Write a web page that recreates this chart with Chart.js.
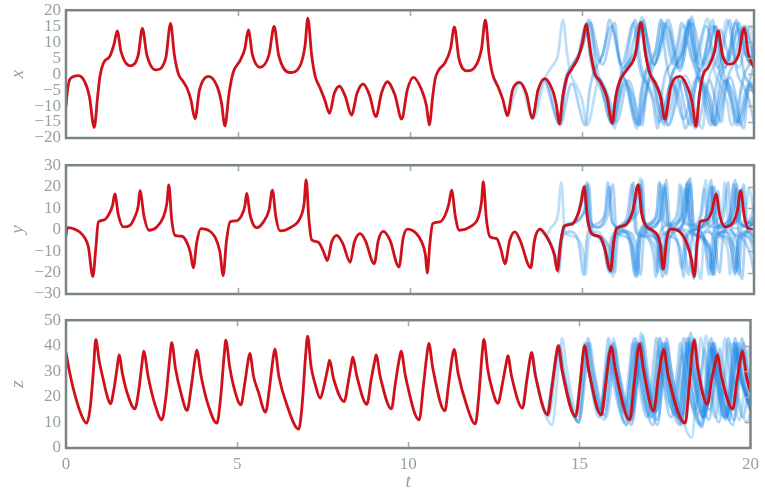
<!DOCTYPE html>
<html>
<head>
<meta charset="UTF-8" />
<title>Lorenz ensemble</title>
<script src="https://cdn.jsdelivr.net/npm/chart.js"></script>
<style>
  body { margin: 0; background: #fff; overflow: hidden; }
  #wrap { position: relative; width: 765px; height: 493px; overflow: hidden; }
  canvas { position: absolute; left: 0; }
</style>
</head>
<body>
<div id="wrap">
  <canvas id="cx" width="765" height="161" style="top:-5px"></canvas>
  <canvas id="cy" width="765" height="162" style="top:150px"></canvas>
  <canvas id="cz" width="765" height="188" style="top:305px"></canvas>
</div>
<script>
// time axis and value ranges [min, max, step]
const tRange = [0, 20, 5];
const xRange = [-20, 20, 5];
const yRange = [-30, 30, 10];
const zRange = [0, 50, 10];

// reference trajectory [t, value]
const redX = [[0,-10],[0.05,-4.5],[0.12,-1.5],[0.36,-0.5],[0.55,-2.5],[0.68,-7],[0.82,-16.7],[0.92,-7],[0.99,-0.5],[1.09,3.5],[1.28,5.7],[1.40,9.5],[1.49,13.5],[1.60,7],[1.86,2.6],[2.10,6],[2.22,14.3],[2.35,6],[2.61,1.3],[2.90,5],[3.04,15.9],[3.15,6],[3.27,0],[3.37,-1.8],[3.51,-4.2],[3.63,-8],[3.75,-14],[3.88,-5],[4.14,-0.7],[4.40,-4],[4.52,-9],[4.62,-16.2],[4.74,-6],[4.86,0.5],[5.06,4.2],[5.20,8],[5.30,13.8],[5.42,6],[5.64,2.1],[5.90,6],[6.05,14.9],[6.18,6],[6.51,0.5],[6.80,2.5],[6.95,9],[7.03,17.5],[7.14,6],[7.24,-0.5],[7.38,-4.2],[7.52,-8],[7.66,-12.3],[7.80,-6],[7.95,-3.8],[8.12,-7],[8.30,-12.8],[8.46,-6],[8.64,-3.1],[8.82,-6.5],[9.01,-13.3],[9.17,-6],[9.34,-2.4],[9.56,-6.5],[9.76,-14.1],[9.92,-5],[10.10,-1.0],[10.34,-5],[10.48,-10],[10.56,-15.9],[10.66,-7],[10.73,-1.6],[10.82,1.0],[11.02,3.6],[11.18,8],[11.29,14.8],[11.42,5],[11.65,1.0],[11.94,3.1],[12.08,8],[12.19,17.0],[12.30,6],[12.40,0],[12.57,-4.2],[12.70,-8],[12.83,-13],[12.98,-5],[13.18,-2.6],[13.38,-6],[13.56,-13.8],[13.72,-5],[13.92,-1.4],[14.14,-5],[14.26,-10],[14.34,-15.6],[14.44,-7],[14.56,-1.0],[14.70,1.6],[14.89,5.2],[15.02,10],[15.12,15.6],[15.26,6],[15.38,0],[15.52,-2.1],[15.72,-7],[15.88,-15.3],[15.98,-7],[16.10,-2.1],[16.30,1.3],[16.55,6],[16.71,16.1],[16.85,6],[16.98,0],[17.12,-2.6],[17.28,-7],[17.41,-14.1],[17.58,-4],[17.85,-0.7],[18.10,-5],[18.22,-10],[18.31,-16.3],[18.42,-6],[18.53,0],[18.67,2.1],[18.85,7],[18.96,13.5],[19.08,6],[19.30,3.1],[19.55,6],[19.71,14.3],[19.84,6],[20.0,2.0]];

const redY = [[0,-2.7],[0.04,0.9],[0.20,0.5],[0.40,-1.1],[0.55,-4],[0.65,-8],[0.78,-21.9],[0.87,-8],[0.94,3.6],[1.09,4.4],[1.23,6.7],[1.35,11],[1.42,16.6],[1.52,7],[1.67,1.25],[1.86,2.0],[2.00,5.9],[2.10,11],[2.15,18.1],[2.27,6],[2.41,-0.3],[2.64,1.25],[2.83,5.9],[2.93,12],[2.99,20.8],[3.07,5],[3.17,-2.7],[3.36,-3.1],[3.51,-5.8],[3.62,-11],[3.70,-17.8],[3.80,-6],[3.92,0.5],[4.14,-0.3],[4.33,-3.4],[4.47,-10],[4.57,-21.4],[4.66,-6],[4.77,3.6],[4.96,4.1],[5.11,6.7],[5.20,11],[5.25,16.9],[5.35,7],[5.49,1.25],[5.55,0.9],[5.74,3.6],[5.90,9],[6.00,18.4],[6.10,6],[6.22,-0.6],[6.56,1.25],[6.80,5.2],[6.92,12],[6.98,23.1],[7.06,5],[7.14,-4.7],[7.33,-5.8],[7.48,-10],[7.60,-14.4],[7.72,-6],[7.87,-2.7],[8.05,-6.6],[8.26,-15.2],[8.38,-6],[8.55,-1.9],[8.70,-5],[8.96,-15.9],[9.08,-5],[9.22,-0.8],[9.42,-5],[9.68,-17.5],[9.80,-4],[9.92,0.2],[10.19,-1.9],[10.34,-5.8],[10.45,-12],[10.50,-20.3],[10.58,-6],[10.66,2.8],[10.87,3.6],[11.02,6.7],[11.13,12],[11.21,18.4],[11.32,6],[11.43,-0.3],[11.74,1.25],[11.99,5.9],[12.08,13],[12.13,22.3],[12.22,5],[12.33,-3.4],[12.52,-4.2],[12.64,-9],[12.76,-15.9],[12.90,-5],[13.05,-1.1],[13.20,-5],[13.51,-17.8],[13.62,-5],[13.78,0.2],[13.95,-2.7],[14.08,-6.6],[14.20,-12],[14.28,-19.1],[14.38,-6],[14.48,1.6],[14.70,2.5],[14.89,7.5],[14.98,13],[15.06,20],[15.16,5],[15.28,-1.9],[15.52,-3.4],[15.65,-8.1],[15.83,-19.1],[15.92,-6],[16.00,0.5],[16.25,2.0],[16.47,8.3],[16.63,20.8],[16.74,7],[16.88,1.25],[17.05,-0.3],[17.27,-6.6],[17.36,-18.3],[17.46,-5],[17.56,0.2],[17.85,-1.1],[18.05,-6.6],[18.18,-14],[18.26,-21.9],[18.35,-6],[18.43,3.6],[18.62,4.4],[18.77,8.3],[18.90,16.6],[19.00,7],[19.16,1.25],[19.40,3.6],[19.52,9],[19.61,18.1],[19.72,6],[19.83,0.5],[20.0,0]];

const redZ = [[0,37.5],[0.10,30],[0.21,23.4],[0.41,14.3],[0.60,9.7],[0.70,15],[0.80,30],[0.87,42.5],[0.97,34],[1.08,27.3],[1.20,20.5],[1.30,17.3],[1.40,23],[1.50,32],[1.55,36.4],[1.65,29],[1.80,21],[2.01,15.3],[2.12,22],[2.22,33],[2.27,37.9],[2.40,28],[2.60,17],[2.80,11],[2.92,20],[3.03,35],[3.09,41.2],[3.20,31],[3.35,22],[3.54,14.7],[3.65,23],[3.76,34],[3.82,38.3],[3.95,28],[4.15,17],[4.41,9.7],[4.52,20],[4.62,36],[4.67,42.2],[4.78,32],[4.92,23],[5.11,16.9],[5.22,25],[5.32,34],[5.37,37],[5.48,28],[5.62,22],[5.83,14],[5.95,24],[6.05,35],[6.10,38.7],[6.22,28],[6.45,17],[6.80,7.4],[6.90,17],[7.00,36],[7.06,43.8],[7.16,32],[7.28,25],[7.43,19.5],[7.55,25],[7.66,32],[7.70,34.4],[7.82,27],[8.13,18.2],[8.25,26],[8.34,33],[8.38,35.5],[8.50,28],[8.79,17.1],[8.92,27],[9.02,34],[9.06,36.4],[9.18,28],[9.51,15.3],[9.62,25],[9.74,35],[9.79,37.9],[9.92,28],[10.32,11],[10.44,24],[10.55,37],[10.60,40.9],[10.72,31],[11.07,14.5],[11.18,25],[11.29,36],[11.34,38.6],[11.46,29],[11.70,17],[11.96,9.4],[12.06,20],[12.16,37],[12.21,42.5],[12.32,31],[12.45,23],[12.62,17.5],[12.75,25],[12.86,33],[12.91,36.1],[13.02,28],[13.34,15.6],[13.46,26],[13.56,35],[13.60,37.3],[13.72,28],[14.07,13],[14.20,24],[14.33,37],[14.38,40],[14.50,30],[14.89,12.3],[15.02,25],[15.11,37],[15.15,40],[15.28,30],[15.64,13],[15.77,25],[15.88,37],[15.93,39.6],[16.06,30],[16.47,11],[16.60,25],[16.70,37],[16.75,40.6],[16.88,30],[17.17,14.5],[17.30,27],[17.41,36],[17.46,38.6],[17.60,28],[18.09,9.7],[18.20,23],[18.30,38],[18.35,42.2],[18.46,31],[18.74,17.1],[18.87,27],[18.98,34],[19.03,36.4],[19.15,28],[19.48,15.3],[19.60,26],[19.71,35],[19.76,37.9],[19.88,28],[20.0,22]];

// ensemble members, one list per member
const blueX = [
  [[12.85,-13.2],[13.20,-2.8],[13.58,-14],[13.92,-1.4],[14.10,2],[14.30,6],[14.45,17],[14.56,7],[14.67,0],[14.80,-3],[15.00,-8],[15.15,-16],[15.50,-2],[15.85,-15],[16.20,-1],[16.60,-17],[16.71,-7],[16.82,0],[16.96,3],[17.15,8],[17.30,17],[17.65,3],[17.95,15],[18.30,2],[18.65,17.5],[18.76,7],[18.87,0],[19.00,-3],[19.20,-8],[19.35,-16],[19.75,-1],[20.0,-6]],
  [[13.56,-13.8],[13.92,-1.6],[14.36,-15.8],[14.70,-3],[15.10,-16],[15.21,-6],[15.32,0],[15.46,3],[15.65,8],[15.80,17],[16.15,3],[16.50,16],[16.61,6],[16.72,0],[16.86,-3],[17.05,-8],[17.20,-17],[17.31,-7],[17.42,0],[17.56,3],[17.75,8],[17.90,16],[18.25,4],[18.60,15],[18.95,2],[19.30,17],[19.41,7],[19.52,0],[19.66,-3],[19.85,-8],[20.0,-15]],
  [[14.34,-15.6],[14.56,-1],[14.70,1.6],[14.89,5.2],[15.18,16],[15.50,4],[15.85,15],[16.20,2],[16.55,17],[16.66,7],[16.77,0],[16.91,-3],[17.10,-8],[17.25,-15],[17.60,-3],[17.95,-14],[18.35,-1],[18.75,-16],[18.86,-6],[18.97,0],[19.11,3],[19.30,8],[19.45,16],[19.75,6],[20.0,5]],
  [[15.12,15.8],[15.26,6],[15.38,0],[15.52,-2.1],[15.70,-7],[15.85,-15.5],[16.25,-2],[16.65,-16],[16.76,-6],[16.87,0],[17.01,3],[17.20,8],[17.35,16],[17.70,3],[18.05,14],[18.45,1],[18.80,17],[18.91,7],[19.02,0],[19.16,-3],[19.35,-8],[19.50,-15],[19.85,-3],[20.0,-6]],
  [[15.88,-15.3],[16.10,-2],[16.30,1.3],[16.55,6],[16.75,16.3],[17.10,3],[17.45,15],[17.80,2],[18.15,17],[18.26,7],[18.37,0],[18.51,-3],[18.70,-8],[18.85,-16],[19.20,-2],[19.55,-15],[19.90,-3],[20.0,-5]],
  [[14.34,-15.6],[14.56,-1],[14.70,1.6],[14.89,5.2],[15.12,15.4],[15.23,6],[15.34,0],[15.48,-3],[15.66,-8],[15.80,-14],[16.20,-1],[16.60,-16],[16.71,-6],[16.82,0],[16.96,3],[17.15,8],[17.30,17],[17.41,7],[17.52,0],[17.66,-3],[17.85,-8],[18.00,-17],[18.40,-1],[18.80,-15],[19.15,-2],[19.50,-16],[19.61,-6],[19.72,0],[19.86,3],[20.0,10]],
  [[13.92,-1.3],[14.38,-15.8],[14.49,-6],[14.60,0],[14.74,3],[14.98,8],[15.20,17],[15.60,3],[15.95,16],[16.06,6],[16.17,0],[16.31,-3],[16.50,-8],[16.65,-16],[17.00,-2],[17.35,-14],[17.75,-1],[18.15,-16],[18.26,-6],[18.37,0],[18.51,3],[18.70,8],[18.85,15],[19.20,4],[19.55,14],[19.90,3],[20.0,5]],
  [[16.30,1.3],[16.71,16.3],[16.85,6],[16.98,0],[17.12,-2.6],[17.28,-7],[17.40,-15],[17.51,-6],[17.62,0],[17.76,3],[17.95,8],[18.10,16],[18.45,3],[18.80,15],[19.15,2],[19.50,17],[19.61,7],[19.72,0],[19.86,-3],[20.0,-6]],
  [[15.52,-2.1],[15.88,-15.5],[15.98,-7],[16.10,-2],[16.30,1.5],[16.55,6],[16.75,16],[17.10,3],[17.45,16],[17.85,1],[18.20,18],[18.31,7],[18.42,0],[18.56,-3],[18.75,-8],[18.90,-16],[19.30,-1],[19.70,-17],[19.81,-7],[19.92,0],[20.0,2]],
  [[14.89,5.2],[15.15,15.8],[15.28,6],[15.40,0],[15.55,-3],[15.75,-8],[15.95,-17],[16.06,-7],[16.17,0],[16.31,3],[16.55,8],[16.75,18],[16.86,7],[16.97,0],[17.11,-3],[17.30,-8],[17.50,-16],[18.00,-0.5],[18.50,-17],[18.61,-7],[18.72,0],[18.86,3],[19.05,8],[19.20,17],[19.55,2],[19.90,15],[20.0,10]],
  [[16.71,16.1],[16.85,6],[16.98,0],[17.12,-2.6],[17.28,-7],[17.43,-14.5],[17.85,-0.8],[18.33,-16.5],[18.70,-2],[19.05,-15],[19.16,-6],[19.27,0],[19.41,3],[19.60,8],[19.75,15],[20.0,6]],
  [[15.52,-2.1],[15.72,-7],[15.90,-15.5],[16.25,-3],[16.60,-15],[17.00,-1],[17.40,-16],[17.51,-6],[17.62,0],[17.76,3],[17.95,8],[18.10,17],[18.21,7],[18.32,0],[18.46,-3],[18.65,-8],[18.85,-16],[18.96,-6],[19.07,0],[19.21,3],[19.40,8],[19.55,16],[19.85,4],[20.0,6]],
  [[14.34,-15.6],[14.45,-6],[14.56,0],[14.72,3],[15.00,8],[15.25,16],[15.36,6],[15.47,0],[15.61,-3],[15.80,-8],[16.00,-15],[16.35,-2],[16.75,-16],[16.86,-6],[16.97,0],[17.11,3],[17.30,8],[17.50,17],[17.85,2],[18.20,16],[18.55,3],[18.90,15],[19.01,6],[19.12,0],[19.26,-3],[19.45,-8],[19.60,-16],[19.90,-3],[20.0,-4]],
  [[15.12,15.6],[15.26,6],[15.38,0],[15.54,-2.5],[15.74,-7],[15.92,-15.8],[16.03,-7],[16.14,0],[16.30,3],[16.60,8],[16.80,17],[16.91,7],[17.02,0],[17.16,-3],[17.35,-8],[17.50,-16],[17.90,-2],[18.30,-17],[18.41,-7],[18.52,0],[18.66,3],[18.85,8],[19.00,14],[19.35,4],[19.70,15],[20.0,4]]
];

const blueY = [
  [[13.78,0.2],[13.95,-2.7],[14.10,1],[14.30,7],[14.40,22],[14.50,-1],[14.70,-3],[14.95,-6],[15.05,-12],[15.10,-21],[15.20,-4],[15.45,-1],[15.65,-6],[15.80,-19],[15.90,-4],[16.15,0],[16.40,-5],[16.55,-22],[16.65,-3],[16.80,2],[17.05,4],[17.18,9],[17.25,22],[17.36,4],[17.60,1],[17.82,7],[17.90,20],[18.00,4],[18.25,1],[18.48,7],[18.60,23],[18.70,-1],[18.95,-3],[19.15,-6],[19.25,-11],[19.30,-21],[19.40,-4],[19.70,-1],[19.90,-6],[20.0,-12]],
  [[13.51,-17.8],[13.62,-5],[13.78,0.3],[13.95,-2.7],[14.08,-6.6],[14.20,-12],[14.30,-19.5],[14.40,-5],[14.65,-1],[14.90,-6],[15.05,-21],[15.15,-3],[15.35,2],[15.55,4],[15.68,9],[15.75,22],[15.86,4],[16.10,1],[16.32,7],[16.45,21],[16.55,-1],[16.75,-3],[16.98,-6],[17.08,-12],[17.15,-22],[17.25,-3],[17.45,2],[17.65,4],[17.78,9],[17.85,21],[17.95,4],[18.20,2],[18.45,7],[18.55,19],[18.65,3],[18.90,1],[19.12,7],[19.25,22],[19.35,-1],[19.55,-3],[19.75,-6],[19.90,-12],[20.0,-20]],
  [[14.28,-19.1],[14.38,-6],[14.48,1.6],[14.70,2.5],[14.89,7.5],[15.00,13],[15.12,21],[15.22,4],[15.45,1],[15.68,7],[15.80,20],[15.90,3],[16.15,0.5],[16.38,7],[16.50,22],[16.60,-1],[16.85,-3],[17.05,-6],[17.15,-11],[17.20,-20],[17.30,-4],[17.55,-1],[17.78,-6],[17.90,-18],[18.00,-4],[18.30,0],[18.55,-5],[18.70,-21],[18.80,-3],[19.00,2],[19.22,4],[19.33,9],[19.40,21],[19.50,5],[19.70,2],[19.90,4],[20.0,6]],
  [[15.06,20.5],[15.16,5],[15.28,-1.9],[15.52,-3.4],[15.65,-8],[15.80,-20],[15.90,-4],[16.20,-0.5],[16.45,-5],[16.60,-22],[16.70,-3],[16.90,2],[17.10,4],[17.23,9],[17.30,21],[17.40,4],[17.65,1],[17.88,7],[18.00,19],[18.10,3],[18.40,0],[18.62,7],[18.75,23],[18.85,-1],[19.05,-3],[19.25,-6],[19.38,-11],[19.45,-20],[19.55,-4],[19.80,-1],[20.0,-6]],
  [[15.83,-19.1],[15.92,-6],[16.00,0.5],[16.25,2],[16.47,8.3],[16.68,21],[16.80,4],[17.05,1],[17.28,7],[17.40,20],[17.50,3],[17.75,0.5],[17.98,7],[18.10,23],[18.20,-1],[18.40,-3],[18.62,-6],[18.73,-11],[18.80,-21],[18.90,-4],[19.15,-1],[19.38,-6],[19.50,-19],[19.60,-4],[19.85,-1],[20.0,-4]],
  [[14.28,-19.1],[14.38,-6],[14.48,1.6],[14.70,2.5],[14.89,7.5],[15.07,19.5],[15.17,4],[15.30,-2],[15.50,-4],[15.65,-9],[15.75,-18],[15.85,-4],[16.15,0],[16.38,-5],[16.55,-21],[16.65,-3],[16.85,2],[17.08,4],[17.18,9],[17.25,22],[17.35,-1],[17.55,-3],[17.78,-6],[17.88,-11],[17.95,-22],[18.05,-4],[18.35,0],[18.58,-5],[18.75,-19],[18.85,-4],[19.10,-1],[19.30,-5],[19.45,-21],[19.55,-3],[19.75,2],[19.92,6],[20.0,11]],
  [[13.78,0.3],[13.95,-2.7],[14.10,-6.6],[14.22,-12],[14.32,-20],[14.42,-4],[14.55,2],[14.75,3],[14.98,6],[15.08,10],[15.15,22],[15.25,4],[15.50,1],[15.75,7],[15.90,21],[16.00,-1],[16.22,-3],[16.42,-6],[16.53,-11],[16.60,-21],[16.70,-4],[16.95,-1],[17.15,-5],[17.30,-18],[17.40,-4],[17.70,0],[17.95,-5],[18.10,-21],[18.20,-3],[18.40,2],[18.60,4],[18.72,9],[18.80,20],[18.90,4],[19.15,1],[19.38,7],[19.50,19],[19.60,3],[19.85,1],[20.0,4]],
  [[16.25,2],[16.47,8.3],[16.65,21],[16.76,7],[16.90,1],[17.05,-1],[17.22,-6],[17.35,-19],[17.45,-4],[17.58,2],[17.78,4],[17.95,9],[18.05,21],[18.15,4],[18.40,1],[18.62,7],[18.75,20],[18.85,3],[19.10,0.5],[19.32,7],[19.45,23],[19.55,-1],[19.78,-3],[19.95,-6],[20.0,-8]],
  [[15.52,-3.4],[15.65,-8],[15.83,-19.5],[15.92,-6],[16.00,0.5],[16.25,2],[16.47,8.3],[16.70,20.5],[16.80,4],[17.05,1],[17.28,7],[17.40,21],[17.50,3],[17.80,0],[18.02,7],[18.15,24],[18.25,-1],[18.45,-3],[18.65,-6],[18.78,-11],[18.85,-21],[18.95,-4],[19.25,0],[19.48,-5],[19.65,-23],[19.75,-3],[19.90,2],[20.0,3]],
  [[14.89,7.5],[15.10,20.5],[15.20,4],[15.35,-2],[15.55,-4],[15.78,-9],[15.90,-22],[16.00,-4],[16.12,2],[16.32,4],[16.58,10],[16.70,24],[16.80,-1],[17.00,-3],[17.25,-6],[17.38,-11],[17.45,-20],[17.55,-4],[17.95,0],[18.25,-5],[18.45,-23],[18.55,-3],[18.75,2],[18.95,5],[19.08,9],[19.15,22],[19.25,4],[19.50,0.5],[19.75,7],[19.85,19],[20.0,8]],
  [[16.63,20.8],[16.74,7],[16.88,1.25],[17.05,-0.3],[17.27,-6.6],[17.38,-18.5],[17.48,-5],[17.58,0.2],[17.87,-1.1],[18.07,-6.6],[18.20,-14],[18.28,-22],[18.38,-5],[18.65,-1],[18.85,-5],[19.00,-20],[19.10,-3],[19.30,2],[19.50,4],[19.62,9],[19.70,21],[19.80,4],[20.0,2]],
  [[15.65,-8.1],[15.85,-19.5],[15.95,-4],[16.20,-1],[16.42,-6],[16.55,-19],[16.65,-3],[16.95,0],[17.20,-6],[17.35,-22],[17.45,-3],[17.65,2],[17.85,4],[17.98,9],[18.05,22],[18.15,-1],[18.35,-3],[18.55,-6],[18.72,-11],[18.80,-21],[18.90,-3],[19.10,2],[19.30,4],[19.42,9],[19.50,21],[19.60,4],[19.85,1],[20.0,6]],
  [[14.28,-19.1],[14.38,-5],[14.50,2],[14.75,3],[15.02,7],[15.12,11],[15.20,21],[15.30,-1],[15.50,-3],[15.72,-6],[15.88,-12],[15.95,-20],[16.05,-3],[16.30,-1],[16.55,-6],[16.70,-21],[16.80,-3],[17.00,2],[17.25,4],[17.38,9],[17.45,23],[17.55,3],[17.80,0],[18.02,7],[18.15,21],[18.25,3],[18.50,1],[18.72,7],[18.85,20],[18.95,-1],[19.15,-3],[19.35,-6],[19.48,-11],[19.55,-21],[19.65,-4],[19.90,-1],[20.0,-4]],
  [[15.06,20],[15.16,5],[15.28,-1.9],[15.54,-3.6],[15.68,-8.5],[15.87,-20],[15.96,-5],[16.06,1],[16.30,3],[16.58,7],[16.68,11],[16.75,23],[16.85,-1],[17.05,-3],[17.25,-6],[17.38,-11],[17.45,-21],[17.55,-4],[17.85,0],[18.10,-6],[18.25,-23],[18.35,-3],[18.55,2],[18.75,4],[18.88,9],[18.95,18],[19.05,3],[19.30,2],[19.55,7],[19.65,19],[19.75,3],[20.0,3]]
];

const blueZ = [
  [[13.60,37.3],[13.72,28],[14.20,9],[14.40,33],[14.50,43],[14.62,32],[14.93,14],[15.12,33],[15.20,41],[15.32,31],[15.63,14],[15.83,32],[15.90,39],[16.02,29],[16.38,9],[16.58,35],[16.65,43],[16.77,32],[17.08,13],[17.28,35],[17.35,43],[17.47,32],[17.73,15],[17.93,32],[18.00,39],[18.12,29],[18.43,12],[18.63,36],[18.70,44],[18.82,33],[19.13,13],[19.33,33],[19.40,41],[19.52,30],[19.90,10],[20.0,14]],
  [[13.34,15.6],[13.56,35],[13.61,37.5],[13.73,28],[14.10,12.5],[14.33,34],[14.41,40],[14.53,30],[14.88,13],[15.08,33],[15.15,41],[15.27,31],[15.58,12],[15.78,35],[15.85,43],[15.97,32],[16.28,14],[16.48,33],[16.55,41],[16.67,31],[16.98,12],[17.18,35],[17.25,43],[17.37,32],[17.68,12],[17.88,33],[17.95,41],[18.07,31],[18.38,15],[18.58,32],[18.65,39],[18.77,29],[19.08,10],[19.28,35],[19.35,43],[19.47,32],[19.78,12],[20.0,32]],
  [[14.07,13],[14.33,37],[14.38,40],[14.50,30],[14.95,11],[15.16,33],[15.23,41],[15.35,31],[15.63,15],[15.83,32],[15.90,39],[16.02,29],[16.33,10],[16.53,35],[16.60,43],[16.72,32],[17.03,13],[17.23,31],[17.30,39],[17.42,29],[17.73,15],[17.93,30],[18.00,37],[18.12,27],[18.53,9],[18.73,33],[18.80,41],[18.92,31],[19.23,12],[19.43,33],[19.50,41],[19.62,31],[20.0,16]],
  [[15.15,40],[15.28,30],[15.64,13],[15.84,32],[15.90,40],[16.02,30],[16.43,11],[16.63,33],[16.70,41],[16.82,31],[17.13,12],[17.33,33],[17.40,41],[17.52,31],[17.83,14],[18.03,30],[18.10,37],[18.22,27],[18.58,9],[18.78,35],[18.85,43],[18.97,32],[19.28,12],[19.48,31],[19.55,39],[19.67,29],[20.0,15]],
  [[15.93,39.6],[16.06,30],[16.50,11],[16.73,33],[16.80,41],[16.92,31],[17.23,14],[17.43,31],[17.50,39],[17.62,29],[17.93,11],[18.13,35],[18.20,43],[18.32,32],[18.63,12],[18.83,33],[18.90,41],[19.02,31],[19.33,13],[19.53,31],[19.60,39],[19.72,29],[20.0,17]],
  [[15.15,40],[15.27,30],[15.58,14],[15.78,30],[15.85,37],[15.97,27],[16.38,9],[16.58,33],[16.65,41],[16.77,31],[17.08,12],[17.28,35],[17.35,43],[17.47,32],[17.78,13],[17.98,35],[18.05,43],[18.17,32],[18.58,8],[18.78,31],[18.85,39],[18.97,29],[19.28,12],[19.48,33],[19.55,41],[19.67,31],[20.0,14]],
  [[14.07,13],[14.36,37],[14.43,40],[14.55,30],[14.98,10],[15.18,35],[15.25,43],[15.37,32],[15.73,13],[15.93,33],[16.00,41],[16.12,31],[16.43,13],[16.63,33],[16.70,41],[16.82,31],[17.13,14],[17.33,30],[17.40,37],[17.52,27],[17.93,9],[18.13,33],[18.20,41],[18.32,31],[18.63,12],[18.83,31],[18.90,39],[19.02,29],[19.33,15],[19.53,30],[19.60,37],[19.72,27],[20.0,17]],
  [[16.47,11],[16.70,37],[16.76,41],[16.88,30],[17.17,14.5],[17.38,31],[17.45,39],[17.57,29],[17.88,12],[18.08,33],[18.15,41],[18.27,31],[18.58,14],[18.78,31],[18.85,39],[18.97,29],[19.28,11],[19.48,35],[19.55,43],[19.67,32],[20.0,15]],
  [[15.64,13],[15.86,37],[15.93,40],[16.05,30],[16.50,11],[16.73,33],[16.80,41],[16.92,31],[17.23,14],[17.43,33],[17.50,41],[17.62,31],[17.98,9],[18.18,37],[18.25,45],[18.37,34],[18.68,12],[18.88,33],[18.95,41],[19.07,31],[19.48,9],[19.68,35],[19.75,43],[19.87,32],[20.0,25]],
  [[14.89,12.3],[15.13,36],[15.20,40],[15.32,30],[15.73,11],[15.93,35],[16.00,43],[16.12,32],[16.53,10],[16.73,37],[16.80,45],[16.92,34],[17.28,11],[17.48,33],[17.55,41],[17.67,31],[18.05,10],[18.28,4],[18.48,35],[18.55,43],[18.67,32],[18.98,12],[19.18,35],[19.25,43],[19.37,32],[19.68,11],[19.88,31],[19.95,39],[20.0,36]],
  [[16.75,40.6],[16.88,30],[17.17,14.5],[17.30,27],[17.48,38.8],[17.60,28],[18.09,9.5],[18.30,38],[18.37,42.5],[18.49,31],[18.80,15],[19.02,33],[19.10,39],[19.22,29],[19.52,11],[19.73,34],[19.80,41],[19.92,31],[20.0,25]],
  [[15.93,40],[16.06,30],[16.33,15],[16.55,33],[16.65,38],[16.77,28],[17.15,9],[17.38,35],[17.45,41],[17.57,31],[17.88,12],[18.08,35],[18.15,43],[18.27,32],[18.60,12],[18.83,33],[18.90,41],[19.02,31],[19.33,12],[19.53,33],[19.60,41],[19.72,31],[20.0,15]],
  [[14.38,40],[14.50,30],[14.98,10],[15.22,33],[15.30,41],[15.42,31],[15.78,12],[15.98,31],[16.05,39],[16.17,29],[16.53,13],[16.73,34],[16.80,41],[16.92,31],[17.28,9],[17.48,35],[17.55,43],[17.67,32],[17.98,10],[18.18,34],[18.25,41],[18.37,31],[18.68,14],[18.88,31],[18.95,39],[19.07,29],[19.38,11],[19.58,33],[19.65,41],[19.77,31],[20.0,16]],
  [[15.15,40],[15.28,30],[15.64,13],[15.84,33],[15.97,40.5],[16.09,30],[16.52,9],[16.78,36],[16.85,44],[16.97,33],[17.28,11],[17.48,33],[17.55,41],[17.67,31],[18.02,13],[18.28,36],[18.35,43],[18.47,32],[18.78,11],[18.98,30],[19.05,37],[19.17,27],[19.48,15],[19.68,31],[19.75,39],[19.87,29],[20.0,22]]
];

const redColor = '#cf111b';
const blueColor = 'rgba(40,140,230,0.38)';
const paleBlue = 'rgba(110,185,235,0.45)';
const spineColor = '#798585';
const textColor = '#97a1a1';
const serif = "'Liberation Serif', 'DejaVu Serif', serif";

// spines + inward tick marks
const frame = {
  id: 'frame',
  afterDatasetsDraw(chart) {
    const { ctx, chartArea: a, scales } = chart;
    ctx.save();
    ctx.strokeStyle = '#a3abab';
    ctx.lineWidth = 1.5;
    ctx.beginPath();
    scales.x.ticks.forEach(tk => {
      if (tk.value <= scales.x.min || tk.value >= scales.x.max) return;
      const px = Math.round(scales.x.getPixelForValue(tk.value)) + 0.5;
      ctx.moveTo(px, a.top); ctx.lineTo(px, a.top + 6);
      ctx.moveTo(px, a.bottom); ctx.lineTo(px, a.bottom - 6);
    });
    scales.y.ticks.forEach(tk => {
      if (tk.value <= scales.y.min || tk.value >= scales.y.max) return;
      const py = Math.round(scales.y.getPixelForValue(tk.value)) + 0.5;
      ctx.moveTo(a.right, py); ctx.lineTo(a.right - 6, py);
    });
    ctx.stroke();
    ctx.strokeStyle = spineColor;
    ctx.lineWidth = 2.5;
    ctx.strokeRect(a.left, a.top, a.right - a.left, a.bottom - a.top);
    ctx.restore();
  }
};

function toPts(arr) {
  return arr.map(p => ({ x: p[0], y: p[1] }));
}

function makePanel(id, red, blues, range, label, pad, showT) {
  const datasets = [{ data: toPts(red), borderColor: redColor, borderWidth: 2.8 }];
  blues.forEach((b, i) => {
    datasets.push({
      data: toPts(b),
      borderColor: (i === 0 || i === 9) ? paleBlue : blueColor,
      borderWidth: 2.8
    });
  });

  return new Chart(document.getElementById(id), {
    type: 'line',
    data: { datasets },
    options: {
      responsive: false,
      animation: false,
      events: [],
      layout: { padding: pad },
      elements: {
        point: { radius: 0 },
        line: { cubicInterpolationMode: 'monotone', fill: false }
      },
      plugins: { legend: { display: false }, tooltip: { enabled: false } },
      scales: {
        x: {
          type: 'linear',
          min: tRange[0], max: tRange[1],
          display: showT,
          ticks: { stepSize: tRange[2], autoSkip: false, color: textColor, padding: 6, font: { family: serif, size: 17 } },
          grid: { display: false, drawTicks: false },
          border: { display: false },
          title: { display: showT, text: 't', color: textColor, padding: { top: 2, bottom: 0 },
                   font: { family: serif, size: 19, style: 'italic' } },
          afterFit: s => { s.height = showT ? 45 : 0; }
        },
        y: {
          type: 'linear',
          min: range[0], max: range[1],
          ticks: {
            stepSize: range[2], autoSkip: false, color: textColor, padding: 5,
            font: { family: serif, size: 17 },
            callback: v => String(v).replace('-', '\u2212')
          },
          grid: { display: false, drawTicks: false },
          border: { display: false },
          title: { display: true, text: label, color: textColor, padding: { top: 7, bottom: 0 },
                   font: { family: serif, size: 19, style: 'italic' } },
          afterFit: s => { s.width = 66; }
        }
      }
    },
    plugins: [frame]
  });
}

makePanel('cx', redX, blueX, xRange, 'x', { top: 15, right: 11, bottom: 18, left: 0 }, false);
makePanel('cy', redY, blueY, yRange, 'y', { top: 15, right: 11, bottom: 18, left: 0 }, false);
makePanel('cz', redZ, blueZ, zRange, 'z', { top: 15, right: 11, bottom: 0, left: 0 }, true);
</script>
</body>
</html>
